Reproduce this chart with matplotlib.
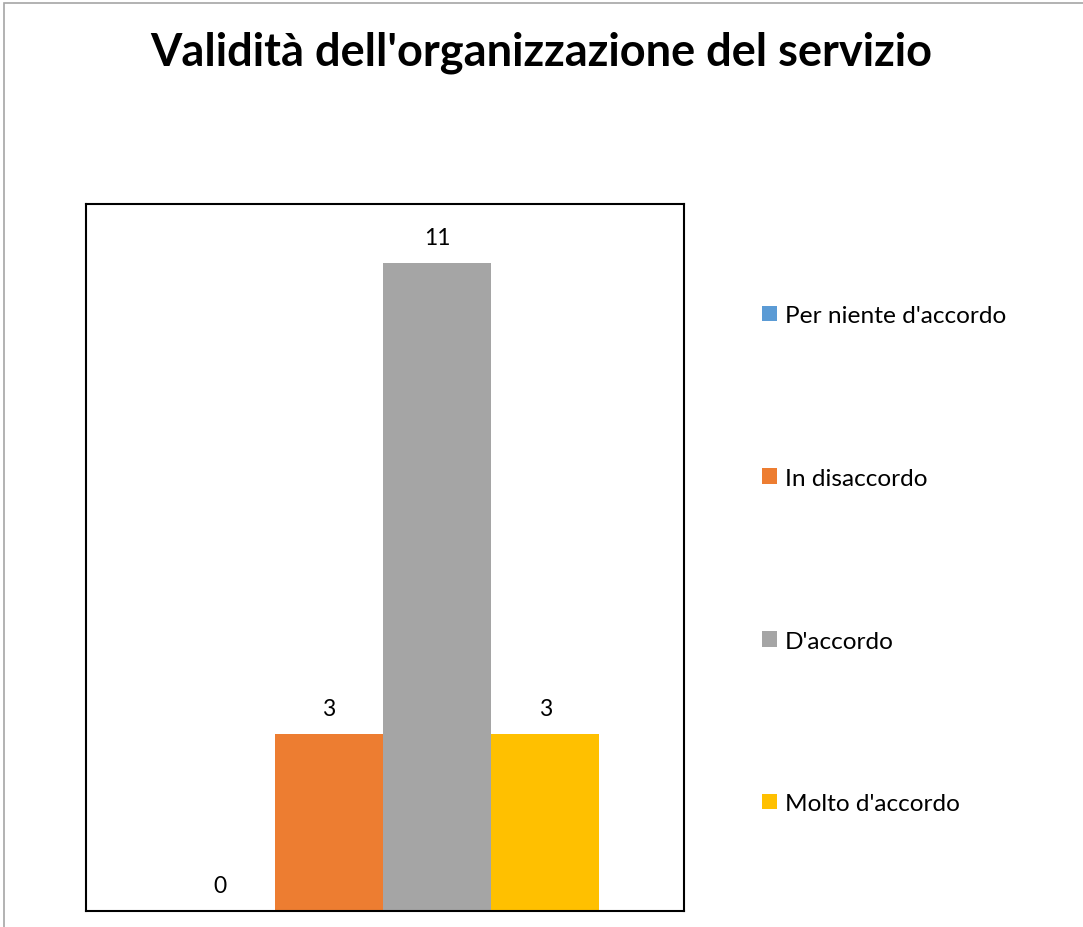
import matplotlib
matplotlib.use("Agg")
import matplotlib.pyplot as plt
from matplotlib.patches import Rectangle, Patch

categories = ["Per niente d'accordo", "In disaccordo", "D'accordo", "Molto d'accordo"]
values = [0, 3, 11, 3]
colors = ["#5B9BD5", "#ED7D31", "#A5A5A5", "#FFC000"]
title = "Validità dell'organizzazione del servizio"

plt.rcParams['font.family'] = ['Lato', 'DejaVu Sans']

W, H = 1083, 928
fig = plt.figure(figsize=(W/100, H/100), dpi=100)
fig.patch.set_facecolor("white")
# outer frame
fig.add_artist(Rectangle((4/W, -0.01), 1.02, 1 - 4/H + 0.01, transform=fig.transFigure,
                         fill=False, edgecolor="#A6A6A6", linewidth=1.2))

ax = fig.add_axes([86/W, 1 - 912/H, (684-86)/W, (912-205)/H])
x = list(range(len(values)))
bars = ax.bar(x, values, width=1.0, color=colors, label=categories)
ax.set_xlim(-1.24, 4.28)
ax.set_ylim(0, 12)
ax.set_xticks([])
ax.set_yticks([])
for s in ax.spines.values():
    s.set_linewidth(1.5)
    s.set_color("black")

for xi, v in zip(x, values):
    ax.annotate(str(v), (xi, v), xytext=(0, 18.5), textcoords="offset points",
                ha="center", va="center", fontsize=16.5, color="#000000")

fig.text(0.5, 1 - 53/H, title, ha="center", va="center", fontsize=32.5, fontweight="bold")

handles = [Patch(facecolor=c, edgecolor="none") for c in colors]
fig.legend(handles, categories, loc="upper left", bbox_to_anchor=(762/W, 1 - 306/H),
           frameon=False, fontsize=17.6, handlelength=0.6, handleheight=0.6,
           handletextpad=0.33, labelspacing=5.8, borderaxespad=0, borderpad=0)

fig.savefig("out.png", dpi=100)
